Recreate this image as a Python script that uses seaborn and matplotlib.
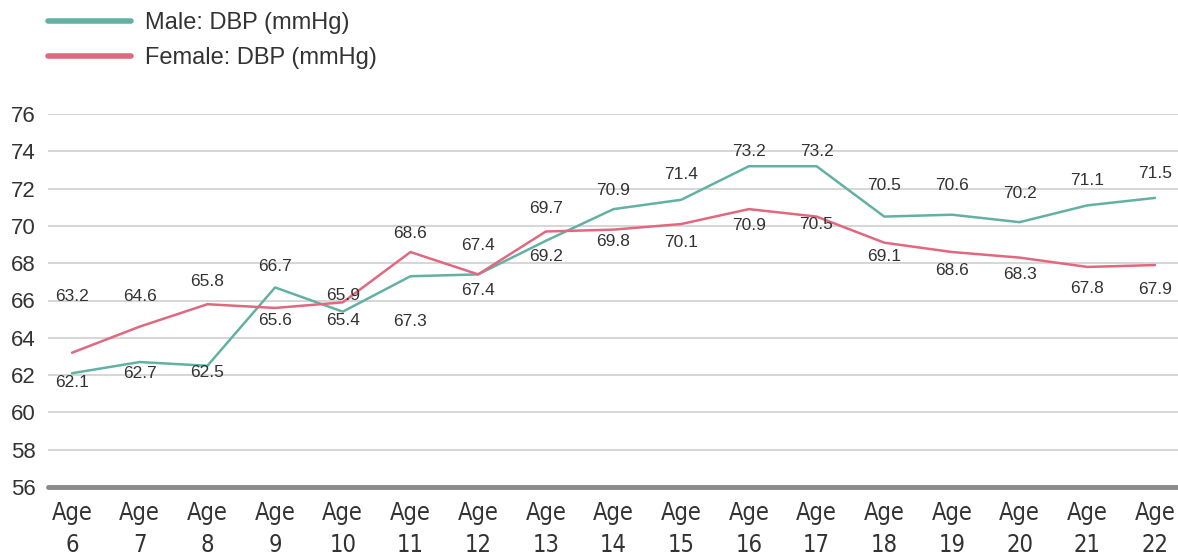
import matplotlib
matplotlib.use('Agg')
import matplotlib.pyplot as plt
import seaborn as sns
import pandas as pd

# data
ages = [6, 7, 8, 9, 10, 11, 12, 13, 14, 15, 16, 17, 18, 19, 20, 21, 22]
male_dbp = [62.1, 62.7, 62.5, 66.7, 65.4, 67.3, 67.4, 69.2, 70.9, 71.4, 73.2, 73.2, 70.5, 70.6, 70.2, 71.1, 71.5]
female_dbp = [63.2, 64.6, 65.8, 65.6, 65.9, 68.6, 67.4, 69.7, 69.8, 70.1, 70.9, 70.5, 69.1, 68.6, 68.3, 67.8, 67.9]
y_ticks = [56, 58, 60, 62, 64, 66, 68, 70, 72, 74, 76]

# label offsets in pixels (upper label goes up, lower label goes down)
top_dy = [56, 30, 23, 21, 7, 19, 29, 23, 19, 25, 15, 15, 31, 29, 29, 25, 24]
bot_dy = [9, 11, 7, 13, 9, 45, 16, 16, 12, 18, 16, 8, 14, 18, 17, 22, 24]

teal = '#63b1a3'
pink = '#e0697f'

sns.set_style('white')
plt.rcParams['font.family'] = ['Liberation Sans', 'DejaVu Sans']

df = pd.DataFrame({
    'idx': list(range(len(ages))) * 2,
    'dbp': male_dbp + female_dbp,
    'series': ['Male: DBP (mmHg)'] * len(ages) + ['Female: DBP (mmHg)'] * len(ages),
})

fig = plt.figure(figsize=(11.78, 5.6), dpi=100)
ax = fig.add_axes([48 / 1178, 1 - 487 / 560, 1 - 48 / 1178, (487 - 114) / 560])

sns.lineplot(data=df, x='idx', y='dbp', hue='series',
             palette={'Male: DBP (mmHg)': teal, 'Female: DBP (mmHg)': pink},
             linewidth=1.8, ax=ax, legend=False)

ax.set_xlim(-0.355, 16.34)
ax.set_ylim(56, 76)
ax.set_yticks(y_ticks)
ax.set_yticklabels([str(t) for t in y_ticks], fontsize=16, color='#333333')
for t in y_ticks[1:]:
    ax.axhline(t, color='#d3d3d3', linewidth=1.3, zorder=0)
ax.axhline(56, color='#8a8a8a', linewidth=3.5, zorder=1, clip_on=False)

ax.set_xticks(range(len(ages)))
ax.set_xticklabels([f'Age\n{a}' for a in ages], fontsize=17, color='#333333',
                   linespacing=1.45, family='DejaVu Sans', fontstretch='condensed')
ax.tick_params(axis='x', length=0, pad=10)
ax.tick_params(axis='y', length=0, pad=9)
ax.set_xlabel('')
ax.set_ylabel('')
for s in ax.spines.values():
    s.set_visible(False)

# value labels: higher value above the line, lower below
for i in range(len(ages)):
    m, f = male_dbp[i], female_dbp[i]
    if m > f:
        hi, lo = m, f
    else:
        hi, lo = f, m
    ax.annotate(f'{hi}', (i, hi), xytext=(0, top_dy[i]), textcoords='offset pixels',
                ha='center', va='center', fontsize=12.5, color='#333333')
    ax.annotate(f'{lo}', (i, lo), xytext=(0, -bot_dy[i]), textcoords='offset pixels',
                ha='center', va='center', fontsize=12.5, color='#333333')

handles = [plt.Line2D([], [], color=teal, linewidth=4),
           plt.Line2D([], [], color=pink, linewidth=4)]
fig.legend(handles, ['Male: DBP (mmHg)', 'Female: DBP (mmHg)'],
           loc='upper left', bbox_to_anchor=(48 / 1178, 1 - 12 / 560),
           frameon=False, fontsize=17, handlelength=3.5, handletextpad=0.6,
           labelspacing=0.55, borderpad=0, borderaxespad=0, labelcolor='#333333')

fig.savefig('out.png', dpi=100)
